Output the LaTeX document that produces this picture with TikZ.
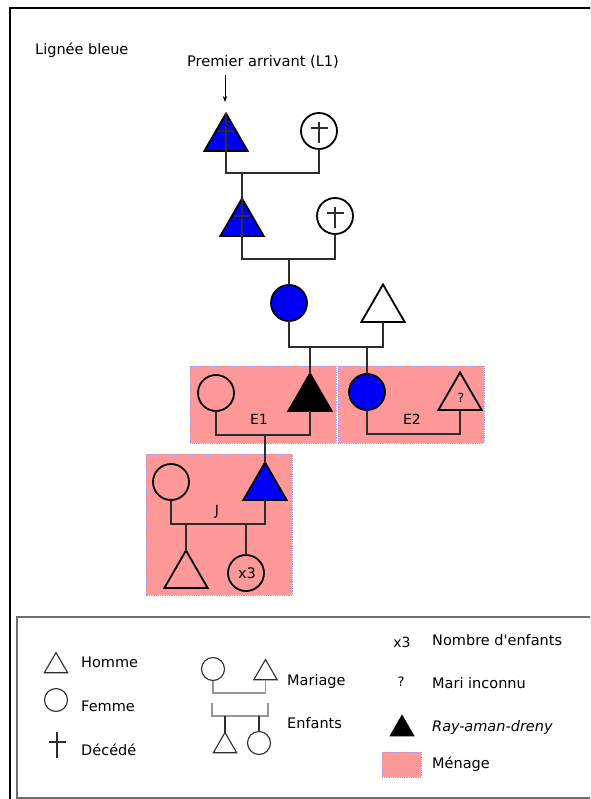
\documentclass[tikz,border=0pt]{standalone}
\usepackage{fontspec}
\setmainfont{DejaVu Sans}
\newfontfamily\dvs{DejaVu Sans}
\usetikzlibrary{shapes.geometric,arrows.meta}
\definecolor{bleu}{RGB}{0,0,250}
\definecolor{rose}{RGB}{255,153,153}
\definecolor{bord}{RGB}{175,155,235}
\definecolor{trait}{RGB}{45,45,45}
\definecolor{grisleg}{RGB}{150,150,150}
\definecolor{cadre}{RGB}{110,110,110}
\begin{document}
\begin{tikzpicture}[x=1pt,y=-1pt,
  tri/.style={regular polygon, regular polygon sides=3, draw=black, line width=1.8pt, inner sep=0pt, outer sep=0pt, minimum size=50pt},
  cir/.style={circle, draw=black, line width=1.8pt, inner sep=0pt, outer sep=0pt, minimum size=36pt},
  ltri/.style={regular polygon, regular polygon sides=3, draw=trait, line width=1.1pt, inner sep=0pt, outer sep=0pt, minimum size=27pt},
  lcir/.style={circle, draw=trait, line width=1.1pt, inner sep=0pt, outer sep=0pt, minimum size=23pt},
  lien/.style={draw=trait, line width=1.4pt},
  lienleg/.style={draw=grisleg, line width=1.3pt},
  croix/.style={draw=trait, line width=1.1pt},
  menage/.style={fill=rose, draw=bord, densely dotted, line width=0.8pt},
  txt/.style={font=\fontsize{14.5}{17}\selectfont, inner sep=0pt, anchor=base west},
  lbl/.style={font=\fontsize{14}{16}\selectfont, inner sep=0pt, anchor=base}]
\useasboundingbox (0,0) rectangle (590,799);
\clip (0,0) rectangle (590,799);
\fill[white] (0,0) rectangle (590,799);
% outer frame
\draw[line width=2.4pt, black] (10,820) -- (10,8) -- (620,8);
% title texts
\node[txt] (titre) at (35,55) {Lignée bleue};
\node[inner sep=0pt, anchor=base, font=\fontsize{14.6}{16}\selectfont] (prem) at (263,67) {Premier arrivant (L1)};
\coordinate (arrA) at (225,75);
\coordinate (arrB) at (225,102);
\draw[line width=0.9pt, -{Stealth[length=6pt,width=4.5pt]}] (arrA) -- (arrB);
% households
\draw[menage] (190,366) rectangle (336,443);
\draw[menage] (338,366) rectangle (484,443);
\draw[menage] (146,454) rectangle (292,595);
% generation 1
\node[tri, fill=bleu] (T1) at (226,138.5) {};
\node[cir] (C1) at (319,131) {};
% generation 2
\node[tri, fill=bleu] (T2) at (242,223.5) {};
\node[cir] (C2) at (335,216) {};
% generation 3
\node[cir, fill=bleu] (C3) at (289,303) {};
\node[tri] (T3) at (383,309.5) {};
% generation 4
\node[cir] (C4) at (216,393) {};
\node[tri, fill=black] (T4) at (310,398.5) {};
\node[cir, fill=bleu] (C5) at (367,392) {};
\node[tri] (T6) at (460,397.5) {};
\node[inner sep=0pt, anchor=base, font=\fontsize{12.5}{14}\selectfont] (q) at (461,402) {?};
\node[lbl] (E1) at (259,424) {E1};
\node[lbl] (E2) at (412,424) {E2};
% generation 5
\node[cir] (C6) at (171,482) {};
\node[tri, fill=bleu] (T5) at (265,487.5) {};
\node[lbl] (J) at (217,515) {J};
% generation 6
\node[tri] (T7) at (186,575.5) {};
\node[cir] (C7) at (246,573) {};
\node[lbl, font=\fontsize{14.5}{16}\selectfont] (x3) at (247,578) {x3};
% crosses (yshift is in canvas units: positive = up)
\draw[croix] (T1.north) -- (T1.south);
\draw[croix] ([xshift=-8pt,yshift=7.5pt]T1.center) -- ([xshift=8pt,yshift=7.5pt]T1.center);
\draw[croix] (T2.north) -- (T2.south);
\draw[croix] ([xshift=-8pt,yshift=7.5pt]T2.center) -- ([xshift=8pt,yshift=7.5pt]T2.center);
\draw[croix] ([yshift=9pt]C1.center) -- ([yshift=-12pt]C1.center);
\draw[croix] ([xshift=-8.5pt,yshift=3pt]C1.center) -- ([xshift=8.5pt,yshift=3pt]C1.center);
\draw[croix] ([yshift=9pt]C2.center) -- ([yshift=-12pt]C2.center);
\draw[croix] ([xshift=-8.5pt,yshift=3pt]C2.center) -- ([xshift=8.5pt,yshift=3pt]C2.center);
% connectors
\coordinate (m1) at (242,173);
\draw[lien] (T1.south) |- (m1) -| (C1.south);
\draw[lien] (m1) -- (T2.north);
\coordinate (m2) at (289,259);
\draw[lien] (T2.south) |- (m2) -| (C2.south);
\draw[lien] (m2) -- (C3.north);
\coordinate (m3a) at (310,347);
\coordinate (m3b) at (367,347);
\draw[lien] (C3.south) |- (m3a) -| (T3.south);
\draw[lien] (m3a) -- (T4.north);
\draw[lien] (m3b) -- (C5.north);
\coordinate (m4) at (265,435);
\draw[lien] (C4.south) |- (m4) -| (T4.south);
\draw[lien] (m4) -- (T5.north);
\coordinate (m5) at (412,434);
\draw[lien] (C5.south) |- (m5) -| (T6.south);
\coordinate (m6a) at (186,524);
\coordinate (m6b) at (246,524);
\draw[lien] (C6.south) |- (m6a) -| (T5.south);
\draw[lien] (m6a) -- (T7.north);
\draw[lien] (m6b) -- (C7.north);
% legend
\draw[draw=cadre, line width=1.3pt] (17,617) rectangle (620,798);
\node[ltri] (LT1) at (56,666) {};
\node[txt] (lh) at (81,667) {Homme};
\node[lcir] (LC1) at (56,700) {};
\node[txt] (lf) at (81,711) {Femme};
\coordinate (lx1) at (57,732);
\coordinate (lx2) at (57,758);
\coordinate (lx3) at (49,742);
\coordinate (lx4) at (66,742);
\draw[croix] (lx1) -- (lx2);
\draw[croix] (lx3) -- (lx4);
\node[txt] (ld) at (81,755) {Décédé};
\node[lcir] (LC2) at (213,669) {};
\node[ltri] (LT2) at (265.5,673) {};
\coordinate (lm1) at (240,693);
\draw[lienleg] (LC2.south) |- (lm1) -| (LT2.south);
\coordinate (lb1) at (212,703);
\coordinate (lb2) at (268,703);
\coordinate (lb3) at (240,716);
\draw[lienleg] (lb1) |- (lb3) -| (lb2);
\node[ltri] (LT3) at (225,746) {};
\node[lcir] (LC3) at (259,743) {};
\coordinate (lc1) at (225,716);
\coordinate (lc2) at (259,716);
\draw[lien, line width=1.1pt] (lc1) -- (LT3.north);
\draw[lien, line width=1.1pt] (lc2) -- (LC3.north);
\node[txt] (lma) at (287,685) {Mariage};
\node[txt] (len) at (287,728) {Enfants};
\node[lbl] (lx3t) at (402,647) {x3};
\node[txt] (lnb) at (432,645) {Nombre d{\dvs'}enfants};
\node[inner sep=0pt, anchor=base, font=\fontsize{13}{14}\selectfont] (lq) at (401,686) {?};
\node[txt] (lmi) at (432,688) {Mari inconnu};
\node[ltri, fill=black, draw=black] (LT4) at (402,729) {};
\node[txt, font=\fontsize{14.5}{17}\selectfont\itshape] (lr) at (432,731) {Ray-aman-dreny};
\draw[menage] (382,752) rectangle (421,777);
\node[txt] (lme) at (432,768) {Ménage};
\end{tikzpicture}
\end{document}
